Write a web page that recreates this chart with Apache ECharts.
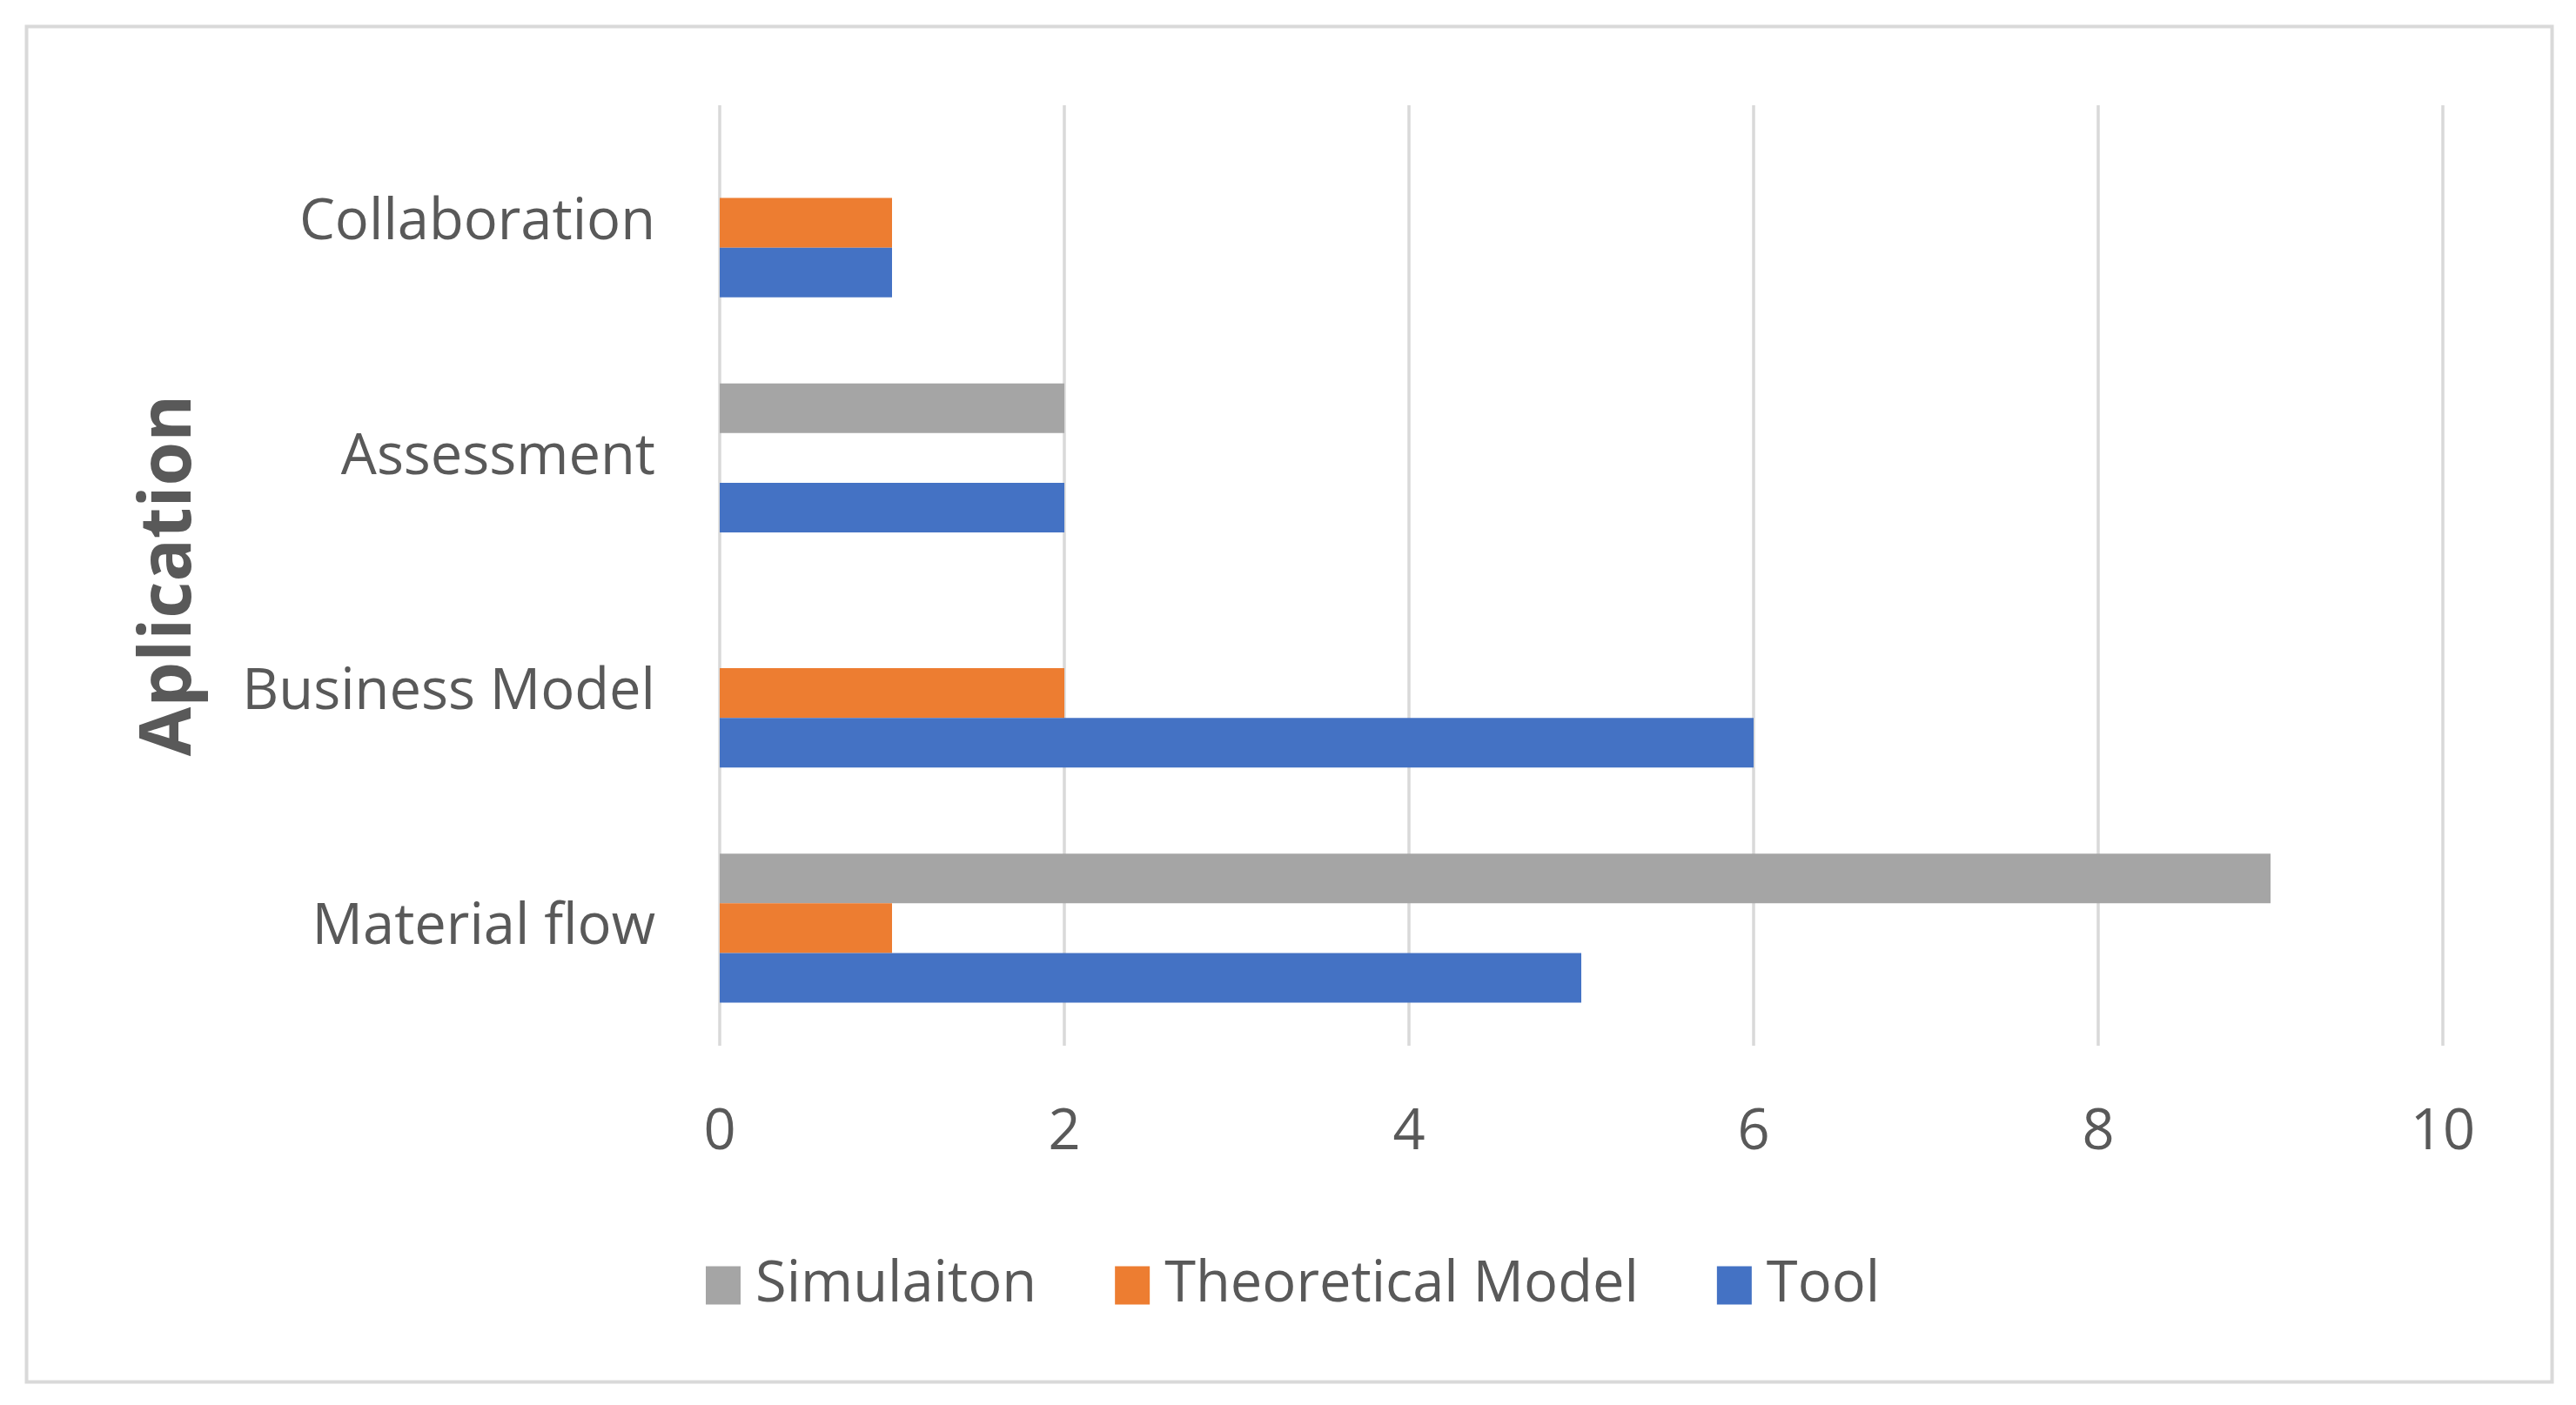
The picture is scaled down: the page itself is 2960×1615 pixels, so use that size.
<!DOCTYPE html>
<html>
<head>
<meta charset="utf-8">
<script src="https://cdn.jsdelivr.net/npm/echarts@6/dist/echarts.min.js"></script>
<style>html,body{margin:0;padding:0;background:#fff}#c{width:2960px;height:1615px}</style>
</head>
<body>
<div id="c"></div>
<script>
var categories = ['Material flow', 'Business Model', 'Assessment', 'Collaboration'];
var simulation = [9, null, 2, null];
var theoretical = [1, 2, null, 1];
var tool = [5, 6, 2, 1];
var xTicks = [0, 2, 4, 6, 8, 10];

var FONT = '"Open Sans", "Noto Sans", sans-serif';
var chart = echarts.init(document.getElementById('c'), null, {renderer: 'canvas'});
chart.setOption({
  backgroundColor: '#fff',
  animation: false,
  graphic: [{
    type: 'rect', left: 28, top: 28,
    shape: {width: 2902, height: 1558},
    style: {fill: 'none', stroke: '#D9D9D9', lineWidth: 4}
  }],
  grid: {left: 827, right: 153, top: 121, bottom: 413, containLabel: false},
  legend: {
    data: ['Simulaiton', 'Theoretical Model', 'Tool'],
    left: 806, top: 1440,
    itemWidth: 40, itemHeight: 44, itemGap: 90,
    icon: 'rect',
    textStyle: {color: '#595959', fontSize: 65, fontFamily: FONT, padding: [0, 0, 0, 12]}
  },
  xAxis: {
    type: 'value', min: xTicks[0], max: xTicks[xTicks.length - 1], interval: 2,
    axisLine: {show: false}, axisTick: {show: false},
    splitLine: {show: true, lineStyle: {color: '#D9D9D9', width: 3.5}},
    axisLabel: {color: '#595959', fontSize: 65, fontFamily: FONT, margin: 68}
  },
  yAxis: {
    type: 'category', data: categories,
    name: 'Aplication', nameLocation: 'middle', nameGap: 590, nameRotate: 90,
    nameTextStyle: {color: '#595959', fontSize: 82, fontWeight: 'bold', fontFamily: FONT, padding: [0, 0, 0, 0]},
    axisLine: {show: false}, axisTick: {show: false},
    axisLabel: {color: '#595959', fontSize: 65, fontFamily: FONT, margin: 74, padding: [8, 0, 0, 0]}
  },
  series: [
    {name: 'Simulaiton', type: 'bar', data: simulation, barGap: '0%', barCategoryGap: '36.7%', itemStyle: {color: '#A5A5A5'}},
    {name: 'Theoretical Model', type: 'bar', data: theoretical, barGap: '0%', barCategoryGap: '36.7%', itemStyle: {color: '#ED7D31'}},
    {name: 'Tool', type: 'bar', data: tool, barGap: '0%', barCategoryGap: '36.7%', itemStyle: {color: '#4472C4'}}
  ]
});
</script>
</body>
</html>
